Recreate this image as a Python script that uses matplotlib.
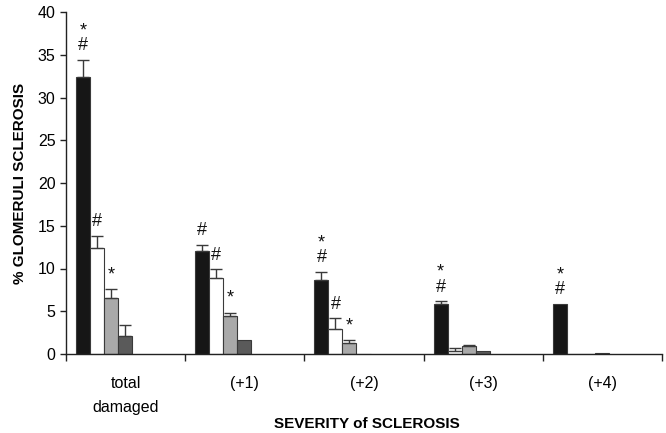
import matplotlib
matplotlib.use("Agg")
import matplotlib.pyplot as plt
import numpy as np

plt.rcParams['font.family'] = ['Liberation Sans', 'DejaVu Sans']

categories = ["total\ndamaged", "(+1)", "(+2)", "(+3)", "(+4)"]
series_black = [32.4, 12.0, 8.6, 5.8, 5.85]
err_black = [2.0, 0.8, 1.0, 0.35, 0.0]
series_white = [12.4, 8.9, 2.9, 0.4, 0.0]
err_white = [1.4, 1.0, 1.3, 0.25, 0.0]
series_gray = [6.6, 4.5, 1.3, 0.9, 0.0]
err_gray = [1.0, 0.35, 0.35, 0.2, 0.0]
series_dark = [2.1, 1.6, 0.0, 0.3, 0.15]
err_dark = [1.3, 0.0, 0.0, 0.0, 0.0]
# significance marks per series (per category)
marks_black = ["*\n#", "#", "*\n#", "*\n#", "*\n#"]
marks_white = ["#", "#", "#", "", ""]
marks_gray = ["*", "*", "*", "", ""]

series = [series_black, series_white, series_gray, series_dark]
errs = [err_black, err_white, err_gray, err_dark]
marks = [marks_black, marks_white, marks_gray, ["", "", "", "", ""]]
colors = ["#161616", "#ffffff", "#a9a9a9", "#5a5a5a"]

fig = plt.figure(figsize=(6.66, 4.33), dpi=100)
ax = fig.add_axes([66/666, 1-354/433, 596/666, 342/433])

bw = 14/119
off = 10/119
idx = np.arange(len(categories))
for i, (vals, e, m, c) in enumerate(zip(series, errs, marks, colors)):
    x = idx + off + bw*(i + 0.5)
    ax.bar(x, vals, width=bw, color=c, edgecolor="#3a3a3a", linewidth=0.8, zorder=2)
    ex = [xx for xx, ee in zip(x, e) if ee > 0]
    ey = [vv for vv, ee in zip(vals, e) if ee > 0]
    ee_ = [ee for ee in e if ee > 0]
    if ex:
        ax.errorbar(ex, ey, yerr=[np.zeros(len(ee_)), ee_], fmt='none',
                    ecolor="#3a3a3a", elinewidth=1, capsize=4, capthick=1, zorder=3)
    for xx, vv, ee, mm in zip(x, vals, e, m):
        if mm:
            ax.annotate(mm, (xx, vv + ee), xytext=(0, 4), textcoords='offset points',
                        ha='center', va='bottom', fontsize=13, linespacing=0.85,
                        color="#111111")

ax.set_xlim(0, 5)
ax.set_ylim(0, 40)
ax.set_yticks(np.arange(0, 41, 5))
ax.set_xticks(np.arange(0, 6, 1))
ax.set_xticklabels([])
ax.tick_params(axis='x', direction='out', length=5, width=1, color="#222222")
ax.tick_params(axis='y', direction='out', length=4, width=1, labelsize=11.5, color="#222222")
for s in ['top', 'right']:
    ax.spines[s].set_visible(False)
for s in ['left', 'bottom']:
    ax.spines[s].set_color("#222222")
    ax.spines[s].set_linewidth(1)

for i, lab in enumerate(categories):
    ax.text(i + 0.5, -2.6, lab, ha='center', va='top', fontsize=11.5,
            linespacing=1.75, transform=ax.transData, clip_on=False)

ax.set_ylabel("% GLOMERULI SCLEROSIS", fontsize=11, fontweight='bold', labelpad=8)
fig.text(367/666, 1-424/433, "SEVERITY of SCLEROSIS", ha='center', va='center',
         fontsize=11, fontweight='bold')

fig.savefig("out.png", dpi=100)
